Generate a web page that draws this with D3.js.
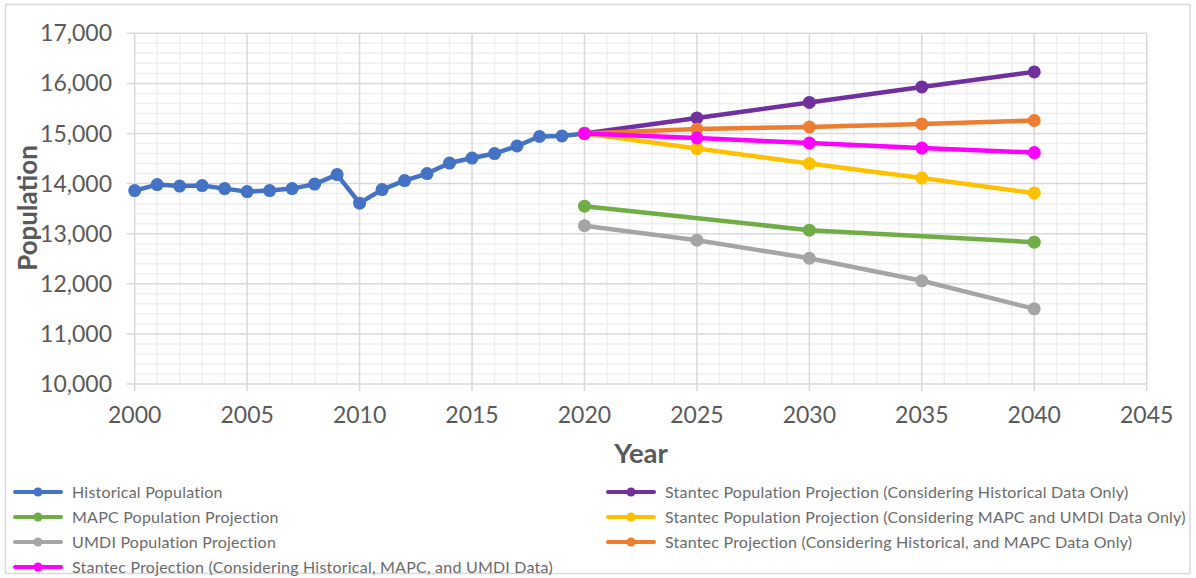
<!DOCTYPE html>
<html>
<head>
<meta charset="utf-8">
<script src="https://cdn.jsdelivr.net/npm/d3@7"></script>
<style>
  html, body { margin: 0; padding: 0; background: #fff; }
  svg { display: block; }
  text { font-family: "Lato", "Open Sans", sans-serif; fill: #595959; }
</style>
</head>
<body>
<svg id="chart" width="1196" height="578"></svg>
<script>
// Town population: historical record and projections to 2040
const histYears = [2000, 2001, 2002, 2003, 2004, 2005, 2006, 2007, 2008, 2009, 2010,
                   2011, 2012, 2013, 2014, 2015, 2016, 2017, 2018, 2019, 2020];
const histPop = [13860, 13980, 13950, 13960, 13900, 13840, 13860, 13900, 13990, 14180, 13610,
                 13880, 14060, 14200, 14410, 14510, 14600, 14750, 14940, 14950, 15000];

const projYears = [2020, 2025, 2030, 2035, 2040];
const stantecHist = [15000, 15310, 15620, 15930, 16230];
const mapcYears = [2020, 2030, 2040];
const mapcPop = [13550, 13070, 12830];
const stantecMapcUmdi = [15000, 14700, 14400, 14110, 13810];
const umdiPop = [13160, 12870, 12510, 12060, 11500];
const stantecHistMapc = [15000, 15090, 15130, 15190, 15260];
const stantecAll = [15000, 14910, 14810, 14710, 14620];

const seriesNames = [
  "Historical Population",
  "Stantec Population Projection (Considering Historical Data Only)",
  "MAPC Population Projection",
  "Stantec Population Projection (Considering MAPC and UMDI Data Only)",
  "UMDI Population Projection",
  "Stantec Projection (Considering Historical, and MAPC Data Only)",
  "Stantec Projection (Considering Historical, MAPC, and UMDI Data)"
];
const seriesColors = ["#4472c4", "#7030a0", "#70ad47", "#ffc000", "#a5a5a5", "#ed7d31", "#ff00ff"];

const xTicks = [2000, 2005, 2010, 2015, 2020, 2025, 2030, 2035, 2040, 2045];
const yTicks = [10000, 11000, 12000, 13000, 14000, 15000, 16000, 17000];

const zip = (xs, ys) => xs.map((x, i) => ({ x, y: ys[i] }));
const series = [
  zip(histYears, histPop),
  zip(projYears, stantecHist),
  zip(mapcYears, mapcPop),
  zip(projYears, stantecMapcUmdi),
  zip(projYears, umdiPop),
  zip(projYears, stantecHistMapc),
  zip(projYears, stantecAll)
];

const svg = d3.select("#chart");
const W = 1196, H = 578;
const plot = { left: 134.7, right: 1146.7, top: 33.3, bottom: 384 };

// outer chart border
svg.append("rect")
  .attr("x", 5.5).attr("y", 4.5).attr("width", W - 11.5).attr("height", H - 9)
  .attr("fill", "#fff").attr("stroke", "#d9d9d9").attr("stroke-width", 1.5);

const x = d3.scaleLinear().domain([2000, 2045]).range([plot.left, plot.right]);
const y = d3.scaleLinear().domain([10000, 17000]).range([plot.bottom, plot.top]);

const g = svg.append("g");

// minor gridlines
const minorX = d3.range(2000, 2046, 1).filter(v => v % 5 !== 0);
const minorY = d3.range(10000, 17001, 200).filter(v => v % 1000 !== 0);
g.selectAll(".minx").data(minorX).enter().append("line")
  .attr("x1", d => x(d)).attr("x2", d => x(d))
  .attr("y1", plot.top).attr("y2", plot.bottom)
  .attr("stroke", "#efefef").attr("stroke-width", 1.5);
g.selectAll(".miny").data(minorY).enter().append("line")
  .attr("x1", plot.left).attr("x2", plot.right)
  .attr("y1", d => y(d)).attr("y2", d => y(d))
  .attr("stroke", "#efefef").attr("stroke-width", 1.5);

// major gridlines with outward tick marks
g.selectAll(".majx").data(xTicks).enter().append("line")
  .attr("x1", d => x(d)).attr("x2", d => x(d))
  .attr("y1", plot.top).attr("y2", plot.bottom + 7)
  .attr("stroke", "#d9d9d9").attr("stroke-width", 1.5);
g.selectAll(".majy").data(yTicks).enter().append("line")
  .attr("x1", plot.left - 8).attr("x2", plot.right)
  .attr("y1", d => y(d)).attr("y2", d => y(d))
  .attr("stroke", "#d9d9d9").attr("stroke-width", 1.5);

// tick labels
const fmt = d3.format(",");
g.selectAll(".ylab").data(yTicks).enter().append("text")
  .attr("x", 112).attr("y", d => y(d)).attr("dy", "0.35em")
  .attr("text-anchor", "end").attr("font-size", 23)
  .text(d => fmt(d));
g.selectAll(".xlab").data(xTicks).enter().append("text")
  .attr("x", d => x(d)).attr("y", 423)
  .attr("text-anchor", "middle").attr("font-size", 23)
  .text(d => d);

// axis titles
svg.append("text").attr("x", 641).attr("y", 463)
  .attr("text-anchor", "middle").attr("font-size", 27.5).attr("font-weight", "bold")
  .text("Year");
svg.append("text")
  .attr("transform", "translate(37,208) rotate(-90)")
  .attr("text-anchor", "middle").attr("font-size", 26).attr("font-weight", "bold")
  .text("Population");

// series lines and markers
const line = d3.line().x(d => x(d.x)).y(d => y(d.y));
series.forEach((s, i) => {
  const sg = svg.append("g");
  sg.append("path").datum(s)
    .attr("d", line).attr("fill", "none")
    .attr("stroke", seriesColors[i]).attr("stroke-width", 4.5)
    .attr("stroke-linejoin", "round").attr("stroke-linecap", "round");
  sg.selectAll("circle").data(s).enter().append("circle")
    .attr("cx", d => x(d.x)).attr("cy", d => y(d.y)).attr("r", 6.5)
    .attr("fill", seriesColors[i]);
});

// legend: two columns, filled row by row
const legend = svg.append("g");
seriesNames.forEach((name, i) => {
  const col = i % 2, row = Math.floor(i / 2);
  const lx = col === 0 ? 15 : 608;
  const ly = 492 + row * 25;
  const item = legend.append("g");
  item.append("line").attr("x1", lx).attr("x2", lx + 46)
    .attr("y1", ly).attr("y2", ly)
    .attr("stroke", seriesColors[i]).attr("stroke-width", 4).attr("stroke-linecap", "round");
  item.append("circle").attr("cx", lx + 23).attr("cy", ly).attr("r", 4.5)
    .attr("fill", seriesColors[i]);
  item.append("text").attr("x", lx + 57).attr("y", ly).attr("dy", "0.35em")
    .attr("font-size", 16).attr("letter-spacing", 0.22)
    .style("fill", "#6a6a6a").text(name);
});
</script>
</body>
</html>
